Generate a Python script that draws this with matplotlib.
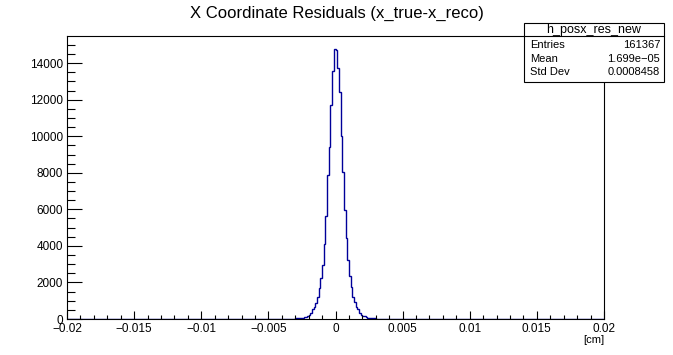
import numpy as np
import matplotlib
matplotlib.use("Agg")
import matplotlib.pyplot as plt
from matplotlib.patches import Rectangle
from matplotlib.ticker import MultipleLocator, FixedLocator

# histogram definition (320 bins over [-0.02, 0.02])
n_bins = 320
x_lo, x_hi = -0.02, 0.02
first_bin = 128  # index of the first non-empty bin listed below

counts_read = [
    # bins 128-144 (left tail)
    3, 4, 5, 7, 9, 12, 16, 21, 28, 37, 48, 60, 75, 95, 120, 160, 240,
    # bins 145-159
    345, 530, 673, 875, 1203, 1695, 2242, 2953, 4101, 5633, 7875, 9406, 11703, 13579, 14749,
    # bins 160-174
    14711, 13720, 12397, 10035, 8039, 5961, 4446, 3226, 2368, 1734, 1220, 930, 673, 530, 312,
    # bins 175-192 (right tail)
    235, 180, 140, 105, 80, 62, 48, 37, 28, 21, 16, 12, 9, 7, 5, 4, 3, 2,
]

hist_name = "h_posx_res_new"
title = "X Coordinate Residuals (x_true-x_reco)"
x_label = "[cm]"
stat_labels = ["Entries", "Mean", "Std Dev"]
stat_values = ["161367", "1.699e\u221205", "0.0008458"]

x_major = [-0.02, -0.015, -0.01, -0.005, 0.0, 0.005, 0.01, 0.015, 0.02]
x_major_labels = ["\u22120.02", "\u22120.015", "\u22120.01", "\u22120.005", "0",
                  "0.005", "0.01", "0.015", "0.02"]

plt.rcParams['font.family'] = ['Liberation Sans', 'DejaVu Sans']

counts = np.zeros(n_bins)
counts[first_bin:first_bin + len(counts_read)] = counts_read
edges = np.linspace(x_lo, x_hi, n_bins + 1)

fig = plt.figure(figsize=(6.73, 3.55), dpi=100)
ax = fig.add_axes([67 / 673, 36 / 355, 537 / 673, 283 / 355])

ax.stairs(counts, edges, color='#000099', lw=1.0)
ax.set_xlim(x_lo, x_hi)
ax.set_ylim(0, 1.05 * counts.max())

for s in ax.spines.values():
    s.set_linewidth(0.8)

ax.xaxis.set_major_locator(FixedLocator(x_major))
ax.set_xticklabels(x_major_labels)
ax.xaxis.set_minor_locator(MultipleLocator(0.001))
ax.yaxis.set_major_locator(MultipleLocator(2000))
ax.yaxis.set_minor_locator(MultipleLocator(500))

ax.tick_params(axis='both', which='both', direction='in', top=False, right=False,
               labelsize=8.5, width=0.8)
ax.tick_params(axis='y', which='major', length=11, pad=3)
ax.tick_params(axis='y', which='minor', length=5.5)
ax.tick_params(axis='x', which='major', length=6, pad=3)
ax.tick_params(axis='x', which='minor', length=3)

fig.text(0.5, 0.962, title, ha='center', va='center', fontsize=12)
fig.text(604 / 673, 1 - 340 / 355, x_label, ha='right', va='center', fontsize=8)

# stats box
bx0, bx1 = 524 / 673, 664 / 673
by_top, by_bot, by_sep = 1 - 23 / 355, 1 - 82 / 355, 1 - 36 / 355
fig.patches.append(Rectangle((bx0, by_bot), bx1 - bx0, by_top - by_bot,
                             transform=fig.transFigure, facecolor='white',
                             edgecolor='black', lw=0.8, zorder=5))
fig.lines.append(plt.Line2D([bx0, bx1], [by_sep, by_sep], transform=fig.transFigure,
                            color='black', lw=0.8, zorder=6))
fig.text((bx0 + bx1) / 2, 1 - 29.5 / 355, hist_name, ha='center', va='center',
         fontsize=9, zorder=7)
row_y = [45, 58.5, 72]
for lab, val, yy in zip(stat_labels, stat_values, row_y):
    fig.text(530 / 673, 1 - yy / 355, lab, ha='left', va='center', fontsize=8, zorder=7)
    fig.text(660 / 673, 1 - yy / 355, val, ha='right', va='center', fontsize=8, zorder=7)

fig.savefig("out.png", dpi=100)
